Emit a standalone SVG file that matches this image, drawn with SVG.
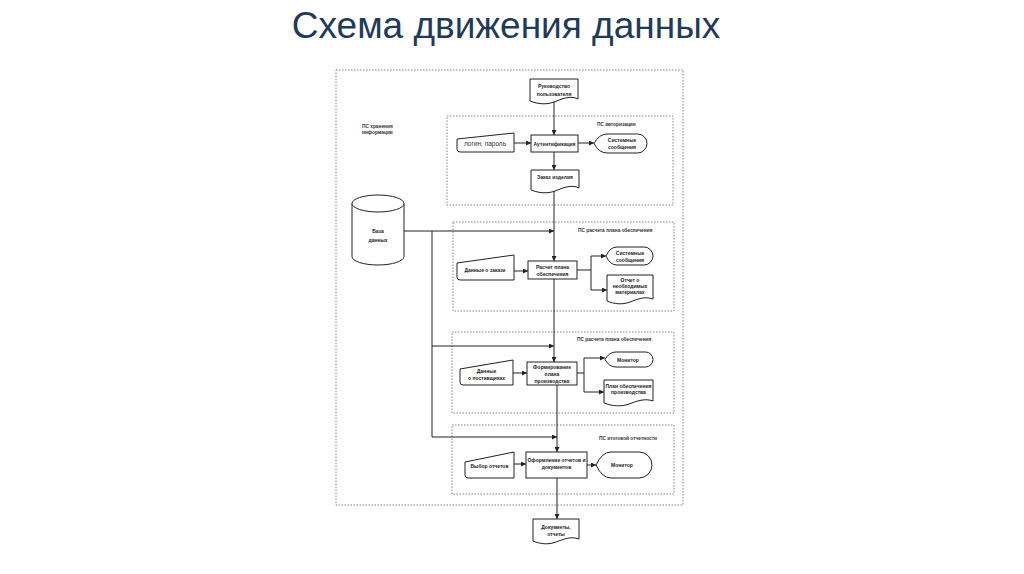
<svg xmlns="http://www.w3.org/2000/svg" width="1024" height="574" viewBox="0 0 1024 574">
<style>
.title{font-family:"Liberation Sans",Arial,sans-serif;font-size:37px;fill:#1f3a5c}
.t{font-family:"Liberation Sans",Arial,sans-serif;font-size:5px;font-weight:bold;fill:#222;text-anchor:middle}
.tn{font-family:"Liberation Sans",Arial,sans-serif;font-size:6.5px;fill:#333;text-anchor:middle}
.lbl{font-family:"Liberation Sans",Arial,sans-serif;font-size:4.8px;font-weight:bold;fill:#333}
.sh{fill:#fff;stroke:#222;stroke-width:1}
.grp{fill:none;stroke:#777;stroke-width:0.9;stroke-dasharray:1.5,1.5}
.c{fill:none;stroke:#222;stroke-width:1}
.ca{fill:none;stroke:#222;stroke-width:1;marker-end:url(#ah)}
</style>
<defs>
<marker id="ah" markerWidth="5" markerHeight="5" refX="5" refY="2.5" orient="auto" markerUnits="userSpaceOnUse">
<path d="M0,0 L5,2.5 L0,5 Z" fill="#222"/>
</marker>
</defs>
<rect width="1024" height="574" fill="#fff"/>
<text class="title" x="506" y="38" text-anchor="middle">Схема движения данных</text>

<g id="groups">
<rect class="grp" x="336" y="70" width="347" height="435"/>
<rect class="grp" x="447" y="116" width="226" height="89"/>
<rect class="grp" x="453" y="222" width="221" height="89"/>
<rect class="grp" x="452" y="332" width="222" height="81"/>
<rect class="grp" x="452" y="425" width="222" height="69"/>
<text class="lbl" x="362" y="128">ПС хранения</text>
<text class="lbl" x="362" y="134">информации</text>
<text class="lbl" x="597" y="126">ПС авторизации</text>
<text class="lbl" x="578" y="232">ПС расчета плана обеспечения</text>
<text class="lbl" x="577" y="341">ПС расчета плана обеспечения</text>
<text class="lbl" x="599" y="440">ПС итоговой отчетности</text>
</g>

<g id="connectors">
<path class="ca" d="M554,101 V135"/>
<path class="ca" d="M514,143 H531"/>
<path class="ca" d="M578,143 H594"/>
<path class="ca" d="M554,152 V170"/>
<path class="ca" d="M554,190 V261"/>
<path class="ca" d="M404,231 H554"/>
<path class="ca" d="M432,231 V437 H557"/>
<path class="ca" d="M432,346 H554"/>
<path class="ca" d="M514,271 H528"/>
<path class="c" d="M577,270 H591 M591,256 V290"/>
<path class="ca" d="M591,256 H606"/>
<path class="ca" d="M591,290 H607"/>
<path class="ca" d="M554,279 V362"/>
<path class="ca" d="M513,373 H527"/>
<path class="c" d="M577,373 H584 M584,358 V392"/>
<path class="ca" d="M584,358 H605"/>
<path class="ca" d="M584,392 H604"/>
<path class="ca" d="M557,385 V452"/>
<path class="ca" d="M514,464 H526"/>
<path class="ca" d="M587,465 H596"/>
<path class="ca" d="M557,478 V519"/>
</g>

<g id="guide">
<path class="sh" d="M530,79 H578 V99 C570,95 562,99 554,102 C546,105 538,104 530,101 Z"/>
<text class="t" x="554" y="88">Руководство</text>
<text class="t" x="554" y="96">пользователя</text>
</g>

<g id="login">
<path class="sh" d="M457,139 L514,133 V152 H460 Q457,152 457,149 Z"/>
<text class="tn" x="485" y="145.5">логин, пароль</text>
</g>

<g id="auth">
<rect class="sh" x="531" y="135" width="47" height="17"/>
<text class="t" x="554.5" y="145.5">Аутентификация</text>
</g>

<g id="sysmsg1">
<path class="sh" d="M594,143.5 Q599,134 607,134 H637.5 A9.5,9.5 0 0 1 637.5,153 H607 Q599,153 594,143.5 Z"/>
<text class="t" x="622" y="142">Системные</text>
<text class="t" x="622" y="149">сообщения</text>
</g>

<g id="order">
<path class="sh" d="M531,170 H579 V188 C571,184 563,188 555,191 C547,194 539,193 531,190 Z"/>
<text class="t" x="555" y="179">Заказ изделия</text>
</g>

<g id="db">
<path class="sh" d="M352,203.5 V256.5 A26,8.5 0 0 0 404,256.5 V203.5"/>
<ellipse class="sh" cx="378" cy="203.5" rx="26" ry="8.5"/>
<text class="t" x="378" y="233">База</text>
<text class="t" x="378" y="242">данных</text>
</g>

<g id="orderdata">
<path class="sh" d="M457,263 L514,255 V280 H460 Q457,280 457,277 Z"/>
<text class="t" x="485" y="272">Данные о заказе</text>
</g>

<g id="calc">
<rect class="sh" x="528" y="261" width="49" height="18"/>
<text class="t" x="552.5" y="268.5">Расчет плана</text>
<text class="t" x="552.5" y="275.5">обеспечения</text>
</g>

<g id="sysmsg2">
<path class="sh" d="M606,256 Q610,247 617,247 H644 A9,9 0 0 1 644,265 H617 Q610,265 606,256 Z"/>
<text class="t" x="630" y="254.5">Системные</text>
<text class="t" x="630" y="261.5">сообщения</text>
</g>

<g id="matreport">
<path class="sh" d="M607,275 H653 V299 C645,296 638,299 630,302 C622,305 614,304 607,301 Z"/>
<text class="t" x="630" y="282">Отчет о</text>
<text class="t" x="630" y="288">необходимых</text>
<text class="t" x="630" y="294">материалах</text>
</g>

<g id="suppliers">
<path class="sh" d="M460,369 L513,360 V385 H463 Q460,385 460,382 Z"/>
<text class="t" x="486.5" y="373">Данные</text>
<text class="t" x="486.5" y="380">о поставщиках</text>
</g>

<g id="form">
<rect class="sh" x="527" y="362" width="50" height="23"/>
<text class="t" x="552" y="368.5">Формирование</text>
<text class="t" x="552" y="375.5">плана</text>
<text class="t" x="552" y="382.5">производства</text>
</g>

<g id="monitor1">
<path class="sh" d="M605,359.5 Q609,352 616,352 H645.5 A7.5,7.5 0 0 1 645.5,367 H616 Q609,367 605,359.5 Z"/>
<text class="t" x="628" y="361.5">Монитор</text>
</g>

<g id="plan">
<path class="sh" d="M604,380 H653 V401 C645,398 637,401 629,404 C621,407 612,406 604,403 Z"/>
<text class="t" x="628.5" y="388">План обеспечения</text>
<text class="t" x="628.5" y="394">производства</text>
</g>

<g id="choice">
<path class="sh" d="M465,462 L514,452 V478 H468 Q465,478 465,475 Z"/>
<text class="t" x="489.5" y="468">Выбор отчетов</text>
</g>

<g id="docs">
<rect class="sh" x="526" y="452" width="61" height="26"/>
<text class="t" x="556.5" y="462">Оформление отчетов и</text>
<text class="t" x="556.5" y="469">документов</text>
</g>

<g id="monitor2">
<path class="sh" d="M596,465 Q602,452 611,452 H639 A13,13 0 0 1 639,478 H611 Q602,478 596,465 Z"/>
<text class="t" x="622" y="467">Монитор</text>
</g>

<g id="final">
<path class="sh" d="M533,519 H579 V539 C571,536 564,539 556,542 C548,545 540,544 533,541 Z"/>
<text class="t" x="556" y="529">Документы,</text>
<text class="t" x="556" y="536">отчеты</text>
</g>
</svg>
